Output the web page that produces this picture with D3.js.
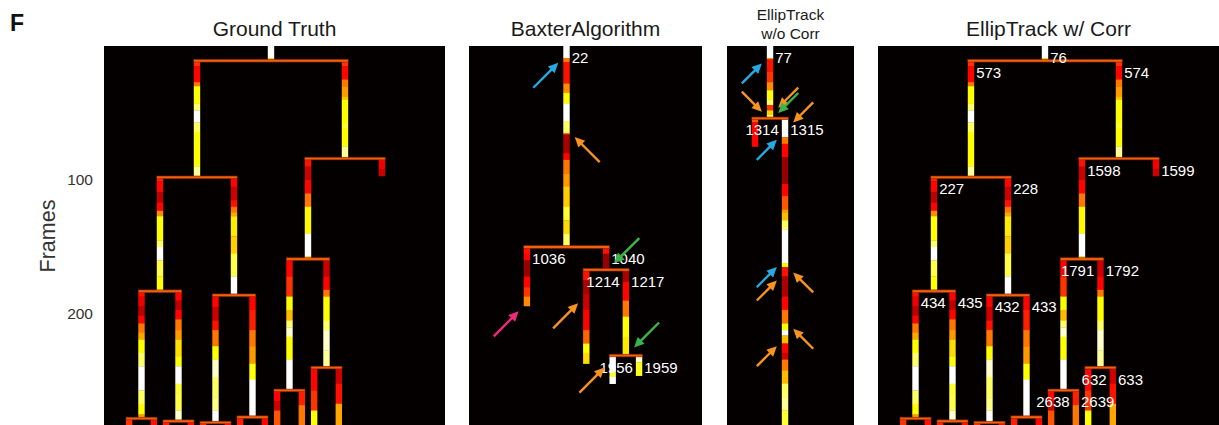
<!DOCTYPE html>
<html>
<head>
<meta charset="utf-8">
<script src="https://cdn.jsdelivr.net/npm/d3@7"></script>
<style>
  html, body { margin: 0; padding: 0; background: #fff; }
  svg { display: block; font-family: "Liberation Sans", Arial, sans-serif; }
</style>
</head>
<body>
<svg id="chart" width="1219" height="425"></svg>
<script>
// Lineage rows: [track, parent, first frame, last frame, intensity runs [[from frame, level 0..1], ...]]
const truthTracks = [
  ["a", null, 0, 11, [[0, 1], [9, 0.7]]],
  ["a1", "a", 11, 98, [[11, 0.45], [15, 0.38], [27, 0.55], [30, 0.75], [43, 0.85], [48, 1], [57, 0.85], [64, 0.75], [90, 0.9]]],
  ["a2", "a", 11, 84, [[11, 0.45], [15, 0.38], [25, 0.55], [30, 0.6], [38, 0.66], [40, 0.75], [58, 0.8], [61, 0.75], [75, 0.9]]],
  ["a11", "a1", 98, 183, [[98, 0.42], [101, 0.38], [109, 0.28], [117, 0.38], [123, 0.58], [127, 0.75], [145, 0.85], [150, 1], [160, 0.82], [172, 0.75]]],
  ["a12", "a1", 98, 186, [[98, 0.38], [105, 0.3], [115, 0.4], [120, 0.55], [124, 0.62], [127, 0.72], [142, 0.68], [155, 0.82], [172, 1]]],
  ["a21", "a2", 84, 159, [[84, 0.4], [90, 0.3], [100, 0.38], [110, 0.55], [120, 0.74], [140, 1], [157, 0.8]]],
  ["a22", "a2", 84, 97, [[84, 0.36], [92, 0.3]]],
  ["a111", "a11", 183, 278, [[183, 0.4], [187, 0.35], [194, 0.28], [201, 0.38], [207, 0.55], [214, 0.62], [219, 0.75], [229, 0.85], [239, 1], [257, 0.85], [267, 0.75], [275, 0.6]]],
  ["a112", "a11", 183, 280, [[183, 0.38], [190, 0.28], [197, 0.38], [204, 0.55], [212, 0.6], [219, 0.7], [232, 0.75], [239, 1], [252, 0.8], [259, 0.82], [272, 0.95]]],
  ["a121", "a12", 186, 281, [[186, 0.38], [195, 0.3], [205, 0.4], [212, 0.55], [224, 0.75], [234, 0.95], [247, 0.85], [262, 0.88], [272, 1]]],
  ["a122", "a12", 186, 277, [[186, 0.38], [197, 0.42], [212, 0.55], [224, 0.6], [237, 0.75], [249, 1]]],
  ["a211", "a21", 159, 257, [[159, 0.38], [172, 0.45], [187, 0.75], [197, 0.65], [205, 0.85], [210, 0.95], [217, 0.75], [234, 1]]],
  ["a212", "a21", 159, 240, [[159, 0.3], [172, 0.38], [182, 0.55], [187, 0.75], [205, 0.85], [212, 0.95], [227, 0.9]]],
  ["a1111", "a111", 278, 290, [[278, 0.45]]],
  ["a1112", "a111", 278, 290, [[278, 0.4]]],
  ["a1121", "a112", 280, 290, [[280, 0.42]]],
  ["a1122", "a112", 280, 290, [[280, 0.4]]],
  ["a1211", "a121", 281, 290, [[281, 0.45]]],
  ["a1212", "a121", 281, 290, [[281, 0.4]]],
  ["a1221", "a122", 277, 290, [[277, 0.42]]],
  ["a1222", "a122", 277, 290, [[277, 0.38]]],
  ["a2111", "a211", 257, 290, [[257, 0.38], [265, 0.3], [272, 0.5]]],
  ["a2112", "a211", 257, 290, [[257, 0.42], [268, 0.55]]],
  ["a2121", "a212", 240, 290, [[240, 0.38], [257, 0.45], [272, 0.75]]],
  ["a2122", "a212", 240, 290, [[240, 0.3], [252, 0.4], [267, 0.62]]]
];

// EllipTrack (with correction) track IDs of the same cells
const corrLabels = [
  ["a", "76"], ["a1", "573"], ["a2", "574"], ["a11", "227"], ["a12", "228"],
  ["a21", "1598"], ["a22", "1599"], ["a111", "434"], ["a112", "435"],
  ["a121", "432"], ["a122", "433"], ["a211", "1791"], ["a212", "1792"],
  ["a2111", "2638"], ["a2112", "2639"], ["a2121", "632"], ["a2122", "633"]
];

const baxterTracks = [
  ["22", null, 0, 150, [[0, 1], [9, 0.55], [12, 0.4], [28, 0.58], [35, 0.75], [43, 1], [56, 0.85], [65, 0.55], [66, 0.25], [80, 0.38], [85, 0.55], [95, 0.6], [105, 0.68], [120, 0.8], [130, 0.7], [140, 0.85]]],
  ["1036", "22", 150, 194, [[150, 0.4], [155, 0.38], [160, 0.22], [172, 0.38], [180, 0.45], [187, 0.58]]],
  ["1040", "22", 150, 167, [[150, 0.4], [155, 0.22]]],
  ["1214", "1040", 167, 237, [[167, 0.4], [175, 0.25], [185, 0.3], [197, 0.38], [212, 0.52], [222, 0.75], [229, 0.7]]],
  ["1217", "1040", 167, 231, [[167, 0.25], [176, 0.38], [190, 0.55], [202, 0.75], [217, 0.72]]],
  ["1956", "1217", 231, 252, [[231, 1], [243, 0.8], [247, 1]]],
  ["1959", "1217", 231, 246, [[231, 0.95], [236, 0.78]]]
];

const noCorrTracks = [
  ["77", null, 0, 54, [[0, 1], [9, 0.6], [10, 0.4], [19, 0.45], [27, 0.58], [33, 0.75], [40, 0.85], [44, 0.45], [48, 0.68], [51, 0.8]]],
  ["1314", "77", 54, 75, [[54, 0.5], [57, 0.38]]],
  ["1315", "77", 54, 290, [[54, 1], [68, 0.55], [73, 0.38], [83, 0.22], [103, 0.38], [112, 0.5], [122, 0.6], [124, 0.65], [130, 0.85], [137, 1], [162, 0.75], [165, 0.4], [172, 0.25], [187, 0.38], [197, 0.55], [207, 0.75], [212, 1], [216, 0.65], [222, 0.38], [229, 0.3], [234, 0.55], [242, 0.65], [252, 0.85], [262, 0.9], [272, 0.8]]]
];

// Error markers: [track, frame, side of the track, coming from, kind]
const baxterArrows = [
  ["22", 12.5, "L", "below", "blue"],
  ["22", 68, "R", "below", "orange"],
  ["1040", 162, "R", "above", "green"],
  ["1036", 198, "L", "below", "pink"],
  ["1214", 192, "L", "below", "orange"],
  ["1217", 225, "R", "above", "green"],
  ["1956", 240, "L", "below", "orange"]
];
const noCorrArrows = [
  ["77", 13, "L", "below", "blue"],
  ["77", 49, "L", "above", "orange"],
  ["77", 46, "R", "above", "orange"],
  ["77", 50, "R", "above", "green"],
  ["1315", 57, "R", "above", "orange"],
  ["1315", 70, "L", "below", "blue"],
  ["1315", 165, "L", "below", "blue"],
  ["1315", 175, "L", "below", "orange"],
  ["1315", 169, "R", "below", "orange"],
  ["1315", 211, "R", "below", "orange"],
  ["1315", 224, "L", "below", "orange"]
];

const frameTicks = [100, 200];
const titles = [["Ground Truth"], ["BaxterAlgorithm"], ["EllipTrack", "w/o Corr"], ["EllipTrack w/ Corr"]];

// ---- drawing ----
const svg = d3.select("#chart");
const arrowColor = { blue: "#27a9e1", orange: "#f7931e", green: "#3ab54a", pink: "#ec2a7b" };
const barW = 6.4;
const plotTop = 46;
const plotBottom = 425;
const y = d3.scaleLinear().domain([0, 283]).range([plotTop, plotTop + 283 * 1.34]);

// MATLAB-style "hot" colormap
function hot(v) {
  const c = t => Math.max(0, Math.min(1, t));
  return d3.rgb(255 * c(v / 0.375), 255 * c((v - 0.375) / 0.375), 255 * c((v - 0.75) / 0.25)).formatHex();
}

// Binary lineage layout: sisters spread further apart the taller their parent's subtree
function layout(rows) {
  const nodes = new Map(rows.map(r => [r[0], { id: r[0], parent: r[1], start: r[2], end: r[3], runs: r[4], children: [] }]));
  let root;
  nodes.forEach(n => { if (n.parent) nodes.get(n.parent).children.push(n); else root = n; });
  const height = n => n.children.length ? 1 + d3.max(n.children, height) : 0;
  const spread = h => h <= 1 ? 1 : 0.75 * Math.pow(2, h - 1);
  (function place(n, px) {
    n.x = px;
    const s = spread(height(n));
    n.children.forEach((c, i) => place(c, px + (i ? s : -s)));
  })(root, 0);
  return { nodes: [...nodes.values()], byId: nodes };
}

const panels = [
  { rows: truthTracks, range: [104, 445], domain: [-13.54, 14.11], labels: null, arrows: [], len: 0 },
  { rows: baxterTracks, range: [469, 702], domain: [-7.39, 10.27], labels: "id", arrows: baxterArrows, len: 25 },
  { rows: noCorrTracks, range: [727, 854], domain: [-2.87, 5.6], labels: "id", arrows: noCorrArrows, len: 20 },
  { rows: truthTracks, range: [878, 1219], domain: [-13.54, 14.11], labels: new Map(corrLabels), arrows: [], len: 0 }
];

panels.forEach((p, pi) => {
  const { nodes, byId } = layout(p.rows);
  const x = d3.scaleLinear().domain(p.domain).range(p.range);
  const g = svg.append("g");
  const clipId = "clip" + pi;
  svg.append("clipPath").attr("id", clipId)
    .append("rect").attr("x", p.range[0]).attr("y", plotTop)
    .attr("width", p.range[1] - p.range[0]).attr("height", plotBottom - plotTop);

  g.append("rect").attr("x", p.range[0]).attr("y", plotTop)
    .attr("width", p.range[1] - p.range[0]).attr("height", plotBottom - plotTop)
    .attr("fill", "#050000");

  const body = g.append("g").attr("clip-path", `url(#${clipId})`);

  // per-frame intensity runs along each track
  nodes.forEach(n => {
    const runs = n.runs.map((r, i) => ({
      from: r[0], to: i + 1 < n.runs.length ? n.runs[i + 1][0] : n.end, v: r[1]
    }));
    body.selectAll(null).data(runs).join("rect")
      .attr("x", x(n.x) - barW / 2)
      .attr("y", d => y(d.from))
      .attr("width", barW)
      .attr("height", d => Math.max(0, y(d.to) - y(d.from)) + 0.3)
      .attr("fill", d => hot(d.v));
  });

  // division connectors
  nodes.filter(n => n.children.length).forEach(n => {
    const xs = n.children.map(c => x(c.x));
    body.append("rect")
      .attr("x", d3.min(xs) - barW / 2)
      .attr("y", y(n.end) - 1.3)
      .attr("width", d3.max(xs) - d3.min(xs) + barW)
      .attr("height", 2.6)
      .attr("fill", "#f0600f")
      .attr("stroke", "#8f2200")
      .attr("stroke-width", 0.6);
  });

  // track IDs
  if (p.labels) {
    nodes.forEach(n => {
      const txt = p.labels === "id" ? n.id : p.labels.get(n.id);
      if (!txt) return;
      const t = body.append("text")
        .attr("y", y(n.start) + 13)
        .attr("dominant-baseline", "middle")
        .attr("fill", "#fff")
        .attr("font-size", 15)
        .text(txt);
      const w = t.node().getComputedTextLength();
      let tx = x(n.x) + barW / 2 + 2;
      if (n.parent) {
        const sibs = byId.get(n.parent).children;
        if (sibs[0] === n && sibs[1]) {
          const limit = x(sibs[1].x) - barW / 2 - 3;
          tx = Math.min(tx, limit - w);
        }
      }
      t.attr("x", tx);
    });
  }

  // error arrows
  p.arrows.forEach(([id, frame, side, from, kind]) => {
    const n = byId.get(id);
    const gap = 5;
    const tipX = side === "L" ? x(n.x) - barW / 2 - gap : x(n.x) + barW / 2 + gap;
    const tipY = y(frame);
    const tailX = side === "L" ? tipX - p.len : tipX + p.len;
    const tailY = from === "below" ? tipY + p.len : tipY - p.len;
    const dx = tipX - tailX, dy = tipY - tailY, L = Math.hypot(dx, dy);
    const ux = dx / L, uy = dy / L, head = 10, hw = 4.8;
    const bx = tipX - ux * head, by = tipY - uy * head;
    const col = arrowColor[kind];
    g.append("line")
      .attr("x1", tailX).attr("y1", tailY).attr("x2", bx + ux).attr("y2", by + uy)
      .attr("stroke", col).attr("stroke-width", 2.4);
    g.append("path")
      .attr("d", `M${tipX},${tipY}L${bx - uy * hw},${by + ux * hw}L${bx + uy * hw},${by - ux * hw}Z`)
      .attr("fill", col);
  });

  // panel title
  const cx = (p.range[0] + p.range[1]) / 2;
  const lines = titles[pi];
  if (lines.length === 1) {
    svg.append("text").attr("x", cx).attr("y", 36).attr("text-anchor", "middle")
      .attr("font-size", 21).attr("fill", "#1a1a1a").text(lines[0]);
  } else {
    lines.forEach((s, i) => svg.append("text").attr("x", cx).attr("y", 20 + i * 19)
      .attr("text-anchor", "middle").attr("font-size", 15.5).attr("fill", "#1a1a1a").text(s));
  }
});

// frame axis
const axis = svg.append("g").attr("transform", "translate(104,0)")
  .call(d3.axisLeft(y).tickValues(frameTicks).tickSize(0).tickPadding(11));
axis.select(".domain").remove();
axis.selectAll("text").attr("font-size", 15.5).attr("fill", "#333")
  .attr("font-family", "Liberation Sans, Arial, sans-serif");

svg.append("text").attr("transform", "translate(55,236) rotate(-90)")
  .attr("text-anchor", "middle").attr("font-size", 21.5).attr("fill", "#333").text("Frames");

svg.append("text").attr("x", 10).attr("y", 31).attr("font-size", 23)
  .attr("font-weight", "bold").attr("fill", "#111").text("F");
</script>
</body>
</html>
